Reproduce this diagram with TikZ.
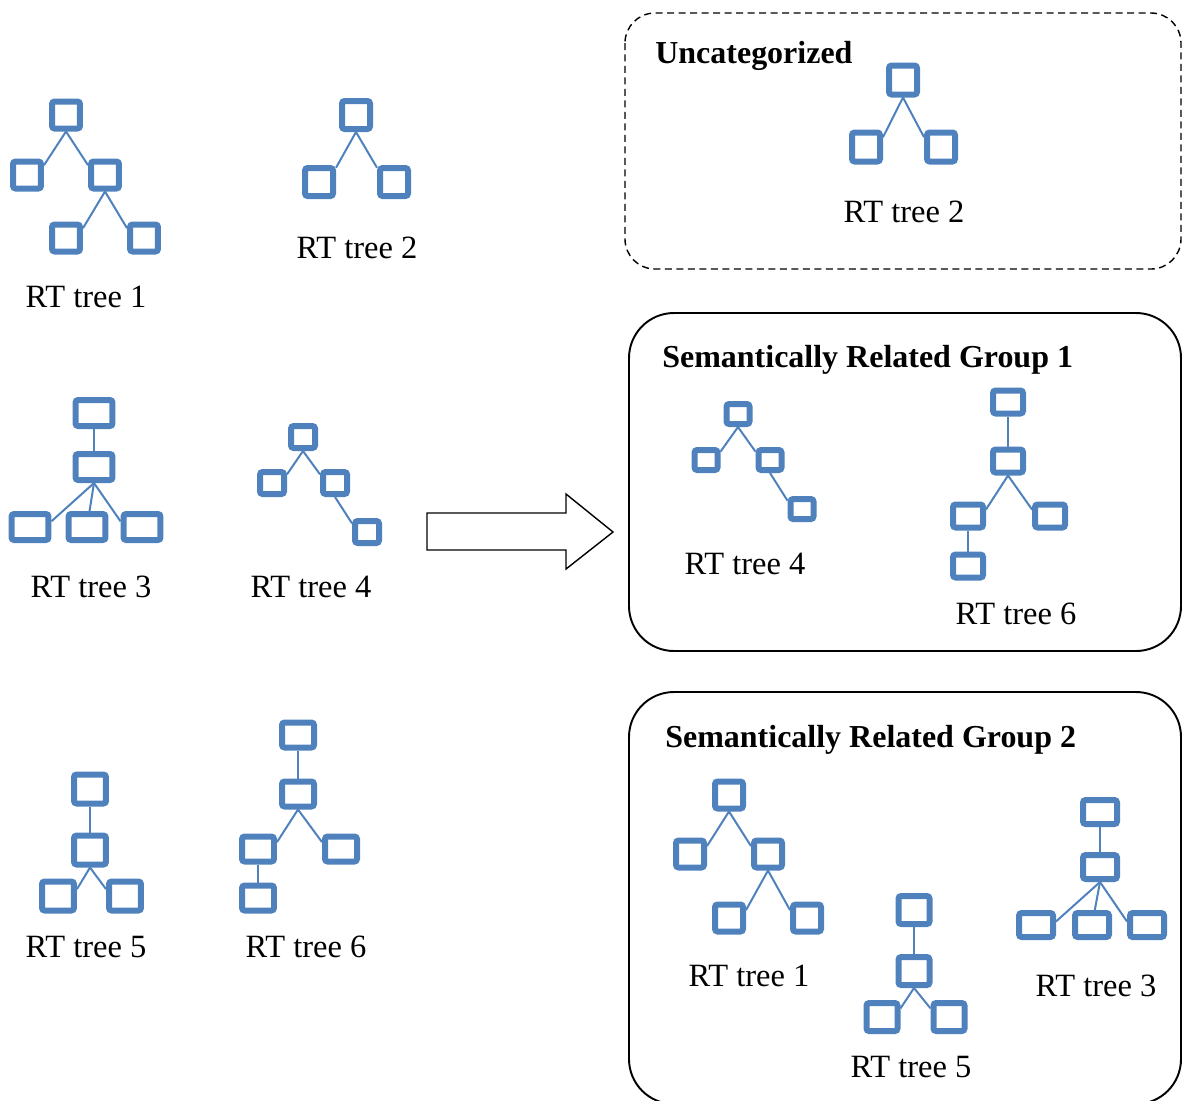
\documentclass[tikz,border=0pt]{standalone}
\usepackage{fontspec}
\setmainfont{Liberation Serif}
\definecolor{rtblue}{HTML}{4F81BD}
\begin{document}
\begin{tikzpicture}[x=0.02cm,y=-0.02cm,
    box/.style 2 args={draw=rtblue,line width=0.12cm,rounded corners=1.5pt,
        inner sep=0pt,minimum width=#1,minimum height=#2},
    link/.style={draw=rtblue,line width=0.04cm},
    lbl/.style={font=\fontsize{18.5}{22}\selectfont,inner sep=0pt},
    ttl/.style={font=\fontsize{18.2}{22}\selectfont\bfseries,inner sep=0pt,anchor=base west},
    group/.style={line width=1.1pt,rounded corners=0.9cm}]
    \useasboundingbox (0,0) rectangle (1183,1100);
    % RT tree 1
    \node[box={0.56cm}{0.54cm}] (t1a) at (66,115) {};
    \node[box={0.56cm}{0.54cm}] (t1b) at (27,175) {};
    \node[box={0.56cm}{0.54cm}] (t1c) at (105,175) {};
    \node[box={0.56cm}{0.54cm}] (t1d) at (66,238) {};
    \node[box={0.56cm}{0.54cm}] (t1e) at (144,238) {};
    \draw[link] (t1a.south) -- (t1b.30);
    \draw[link] (t1a.south) -- (t1c.150);
    \draw[link] (t1c.south) -- (t1d.30);
    \draw[link] (t1c.south) -- (t1e.150);
    \node[lbl] (l1) at (86,297) {RT tree 1};
    % RT tree 2
    \node[box={0.56cm}{0.56cm}] (t2a) at (356,115) {};
    \node[box={0.56cm}{0.56cm}] (t2b) at (319,182) {};
    \node[box={0.56cm}{0.56cm}] (t2c) at (394,182) {};
    \draw[link] (t2a.south) -- (t2b.40);
    \draw[link] (t2a.south) -- (t2c.140);
    \node[lbl] (l2) at (357,248) {RT tree 2};
    % RT tree 3
    \node[box={0.74cm}{0.52cm}] (t3a) at (94,413) {};
    \node[box={0.74cm}{0.52cm}] (t3b) at (94,467) {};
    \node[box={0.74cm}{0.52cm}] (t3c) at (30,527) {};
    \node[box={0.74cm}{0.52cm}] (t3d) at (87,527) {};
    \node[box={0.74cm}{0.52cm}] (t3e) at (142,527) {};
    \draw[link] (t3a) -- (t3b);
    \draw[link] (t3b.south) -- (t3c.15);
    \draw[link] (t3b.south) -- (t3d);
    \draw[link] (t3b.south) -- (t3e.165);
    \node[lbl] (l3) at (91,587) {RT tree 3};
    % RT tree 4
    \node[box={0.48cm}{0.44cm}] (t4a) at (303,437) {};
    \node[box={0.48cm}{0.44cm}] (t4b) at (272,483) {};
    \node[box={0.48cm}{0.44cm}] (t4c) at (335,483) {};
    \node[box={0.48cm}{0.44cm}] (t4d) at (367,532) {};
    \draw[link] (t4a.south) -- (t4b.30);
    \draw[link] (t4a.south) -- (t4c.150);
    \draw[link] (t4c.south) -- (t4d.150);
    \node[lbl] (l4) at (311,587) {RT tree 4};
    % RT tree 5
    \node[box={0.64cm}{0.58cm}] (t5a) at (90,789) {};
    \node[box={0.64cm}{0.58cm}] (t5b) at (90,850) {};
    \node[box={0.64cm}{0.58cm}] (t5c) at (58,896) {};
    \node[box={0.64cm}{0.58cm}] (t5d) at (125,896) {};
    \draw[link] (t5a) -- (t5b);
    \draw[link] (t5b.south) -- (t5c.20);
    \draw[link] (t5b.south) -- (t5d.160);
    \node[lbl] (l5) at (86,947) {RT tree 5};
    % RT tree 6
    \node[box={0.64cm}{0.5cm}] (t6a) at (298,735) {};
    \node[box={0.64cm}{0.5cm}] (t6b) at (298,794) {};
    \node[box={0.64cm}{0.5cm}] (t6c) at (258,849) {};
    \node[box={0.64cm}{0.5cm}] (t6d) at (341,849) {};
    \node[box={0.64cm}{0.5cm}] (t6e) at (258,898) {};
    \draw[link] (t6a) -- (t6b);
    \draw[link] (t6b.south) -- (t6c.20);
    \draw[link] (t6b.south) -- (t6d.160);
    \draw[link] (t6c) -- (t6e);
    \node[lbl] (l6) at (306,947) {RT tree 6};
    % block arrow
    \draw[line width=0.8pt] (427,513) -- (566,513) -- (566,494) -- (613,532)
        -- (566,569) -- (566,550) -- (427,550) -- cycle;
    % Uncategorized
    \draw[line width=0.8pt,dash pattern=on 0.14cm off 0.09cm,rounded corners=0.6cm]
        (625,13) rectangle (1181,269);
    \node[ttl] (g0) at (655,63) {Uncategorized};
    \node[box={0.56cm}{0.58cm}] (u2a) at (903,80) {};
    \node[box={0.56cm}{0.58cm}] (u2b) at (866,147) {};
    \node[box={0.56cm}{0.58cm}] (u2c) at (941,147) {};
    \draw[link] (u2a.south) -- (u2b.30);
    \draw[link] (u2a.south) -- (u2c.150);
    \node[lbl] (m2) at (904,212) {RT tree 2};
    % Semantically Related Group 1
    \draw[group] (629,313) rectangle (1181,651);
    \node[ttl] (g1) at (662,367) {Semantically Related Group 1};
    \node[box={0.46cm}{0.4cm}] (s4a) at (738,414) {};
    \node[box={0.46cm}{0.4cm}] (s4b) at (706,460) {};
    \node[box={0.46cm}{0.4cm}] (s4c) at (770,460) {};
    \node[box={0.46cm}{0.4cm}] (s4d) at (802,509) {};
    \draw[link] (s4a.south) -- (s4b.30);
    \draw[link] (s4a.south) -- (s4c.150);
    \draw[link] (s4c.south) -- (s4d.150);
    \node[lbl] (m4) at (745,564) {RT tree 4};
    \node[box={0.6cm}{0.46cm}] (s6a) at (1008,402) {};
    \node[box={0.6cm}{0.46cm}] (s6b) at (1008,461) {};
    \node[box={0.6cm}{0.46cm}] (s6c) at (968,516) {};
    \node[box={0.6cm}{0.46cm}] (s6d) at (1050,516) {};
    \node[box={0.6cm}{0.46cm}] (s6e) at (968,566) {};
    \draw[link] (s6a) -- (s6b);
    \draw[link] (s6b.south) -- (s6c.20);
    \draw[link] (s6b.south) -- (s6d.160);
    \draw[link] (s6c) -- (s6e);
    \node[lbl] (m6) at (1016,614) {RT tree 6};
    % Semantically Related Group 2
    \draw[group] (629,692) rectangle (1181,1104);
    \node[ttl] (g2) at (665,747) {Semantically Related Group 2};
    \node[box={0.56cm}{0.54cm}] (s1a) at (729,795) {};
    \node[box={0.56cm}{0.54cm}] (s1b) at (690,854) {};
    \node[box={0.56cm}{0.54cm}] (s1c) at (768,854) {};
    \node[box={0.56cm}{0.54cm}] (s1d) at (729,918) {};
    \node[box={0.56cm}{0.54cm}] (s1e) at (807,918) {};
    \draw[link] (s1a.south) -- (s1b.25);
    \draw[link] (s1a.south) -- (s1c.155);
    \draw[link] (s1c.south) -- (s1d.25);
    \draw[link] (s1c.south) -- (s1e.155);
    \node[lbl] (m1) at (749,976) {RT tree 1};
    \node[box={0.62cm}{0.56cm}] (s5a) at (914,910) {};
    \node[box={0.62cm}{0.56cm}] (s5b) at (914,971) {};
    \node[box={0.62cm}{0.56cm}] (s5c) at (882,1017) {};
    \node[box={0.62cm}{0.56cm}] (s5d) at (949,1017) {};
    \draw[link] (s5a) -- (s5b);
    \draw[link] (s5b.south) -- (s5c.25);
    \draw[link] (s5b.south) -- (s5d.155);
    \node[lbl] (m5) at (911,1067) {RT tree 5};
    \node[box={0.68cm}{0.48cm}] (s3a) at (1100,812) {};
    \node[box={0.68cm}{0.48cm}] (s3b) at (1100,867) {};
    \node[box={0.68cm}{0.48cm}] (s3c) at (1036,925) {};
    \node[box={0.68cm}{0.48cm}] (s3d) at (1092,925) {};
    \node[box={0.68cm}{0.48cm}] (s3e) at (1147,925) {};
    \draw[link] (s3a) -- (s3b);
    \draw[link] (s3b.south) -- (s3c.10);
    \draw[link] (s3b.south) -- (s3d);
    \draw[link] (s3b.south) -- (s3e.170);
    \node[lbl] (m3) at (1096,986) {RT tree 3};
\end{tikzpicture}
\end{document}
